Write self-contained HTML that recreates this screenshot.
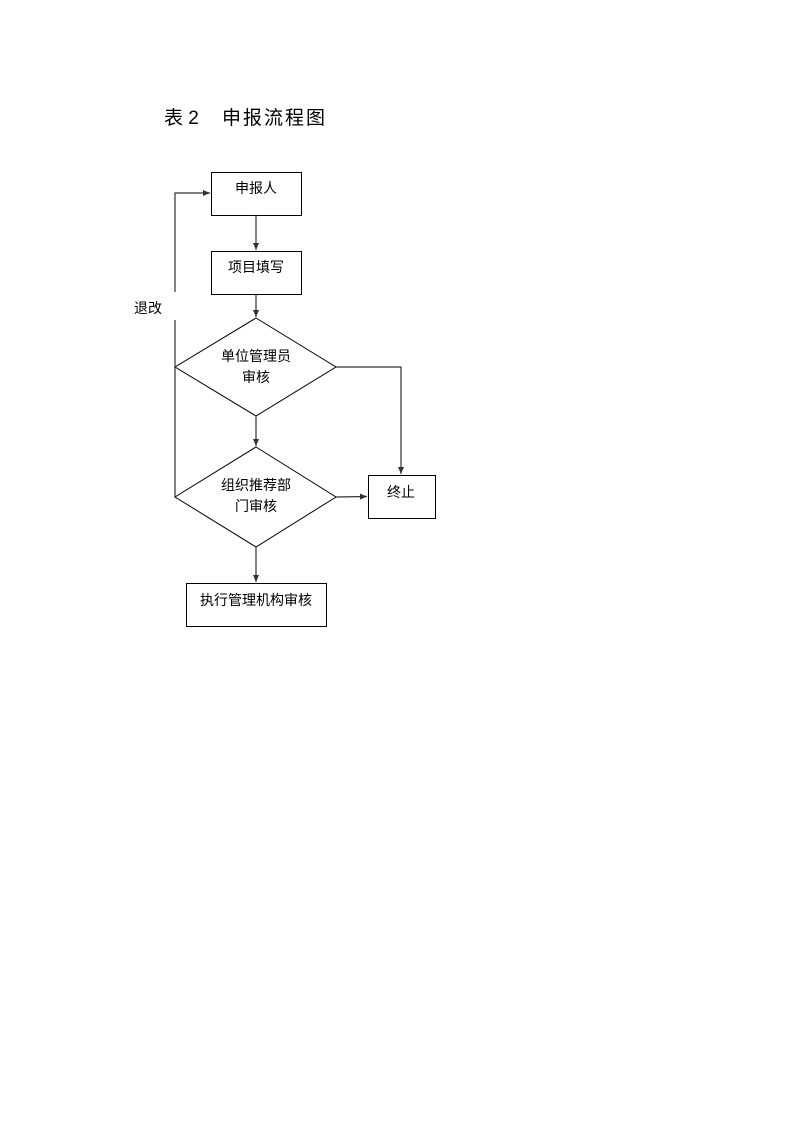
<!DOCTYPE html>
<html><head><meta charset="utf-8"><style>
body{margin:0;background:#fff;}
svg{display:block}
text{font-family:"Liberation Sans","Noto Sans CJK SC",sans-serif;fill:#000}
</style></head><body>
<svg width="793" height="1122" viewBox="0 0 793 1122">
<defs><marker id="a" markerWidth="8" markerHeight="8" refX="7" refY="4" orient="auto" markerUnits="userSpaceOnUse"><path d="M0,1 L7,4 L0,7 z" fill="#333"/></marker></defs>
<text x="164" y="124" font-size="19" font-family="'Liberation Serif','Noto Serif CJK SC',serif">表 2</text>
<text x="222" y="124" font-size="19" letter-spacing="2" font-family="'Noto Serif CJK SC',serif">申报流程图</text>
<g fill="none" stroke="#000" stroke-width="1">
<rect x="211.5" y="172.5" width="90" height="43"/>
<rect x="211.5" y="251.5" width="90" height="43"/>
<polygon points="256,318 336,367 256,416 175,367"/>
<polygon points="256,447 336,497 256,547 175,497"/>
<rect x="368.5" y="475.5" width="67" height="43"/>
<rect x="186.5" y="583.5" width="140" height="43"/>
</g>
<g fill="none" stroke="#333" stroke-width="1.2">
<line x1="256" y1="215" x2="256" y2="250" marker-end="url(#a)"/>
<line x1="256" y1="294" x2="256" y2="317" marker-end="url(#a)"/>
<line x1="256" y1="416" x2="256" y2="446" marker-end="url(#a)"/>
<line x1="256" y1="547" x2="256" y2="582" marker-end="url(#a)"/>
<polyline points="336,367 401,367 401,474" marker-end="url(#a)"/>
<line x1="336" y1="497" x2="367" y2="496.5" marker-end="url(#a)"/>
<polyline points="175,497 175,320"/>
<polyline points="175,292 175,193 210,193" marker-end="url(#a)"/>
</g>
<text x="134" y="313" font-size="14">退改</text>
<text x="256" y="193" font-size="14" text-anchor="middle">申报人</text>
<text x="256" y="272" font-size="14" text-anchor="middle">项目填写</text>
<text x="256" y="361" font-size="14" text-anchor="middle">单位管理员</text>
<text x="256" y="382" font-size="14" text-anchor="middle">审核</text>
<text x="256" y="490" font-size="14" text-anchor="middle">组织推荐部</text>
<text x="256" y="511" font-size="14" text-anchor="middle">门审核</text>
<text x="401" y="497" font-size="14" text-anchor="middle">终止</text>
<text x="256" y="605" font-size="14" text-anchor="middle">执行管理机构审核</text>
</svg>
</body></html>
